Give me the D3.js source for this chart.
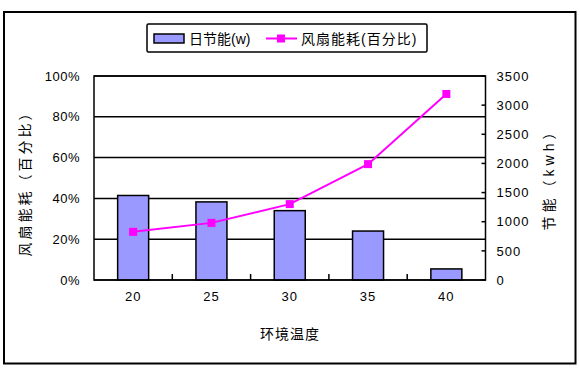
<!DOCTYPE html>
<html><head><meta charset="utf-8">
<script src="https://cdn.jsdelivr.net/npm/d3@7"></script>
<style>
body{margin:0;background:#fff;}
text{font-family:Arial,"Liberation Sans","Noto Sans CJK SC",sans-serif;fill:#000;}
</style></head>
<body><svg id="c" width="580" height="380"></svg>
<script>
const categories = ["20","25","30","35","40"];
const energySaving = [1450,1340,1190,840,190];
const fanPower = [0.236,0.28,0.372,0.568,0.912];
const leftTicks = [0,0.2,0.4,0.6,0.8,1.0];
const rightTicks = [0,500,1000,1500,2000,2500,3000,3500];
const barName = "日节能(w)";
const lineName = "风扇能耗(百分比)";
const leftTitle = "风扇能耗（百分比）";
const rightTitle = "节能（kwh）";
const xTitle = "环境温度";

const svg = d3.select("#c");
const L=94, R=485.5, T=76, B=280;

// outer frame
svg.append("rect").attr("x",4).attr("y",12).attr("width",571.5).attr("height",351.5)
  .attr("fill","#fff").attr("stroke","#000").attr("stroke-width",2);

const xb = d3.scaleBand().domain(categories).range([L,R]);
const yL = d3.scaleLinear().domain([0,1]).range([B,T]);
const yR = d3.scaleLinear().domain([0,3500]).range([B,T]);

// plot area
svg.append("rect").attr("x",L).attr("y",T).attr("width",R-L).attr("height",B-T).attr("fill","#fff");

// gridlines
svg.append("g").selectAll("line").data(leftTicks).join("line")
  .attr("x1",L).attr("x2",R).attr("y1",d=>yL(d)).attr("y2",d=>yL(d))
  .attr("stroke","#000").attr("stroke-width",1.5);

// bars
svg.append("g").selectAll("rect").data(energySaving).join("rect")
  .attr("x",(d,i)=>xb(categories[i])+xb.bandwidth()/2-15.5)
  .attr("width",31)
  .attr("y",d=>yR(d)).attr("height",d=>B-yR(d))
  .attr("fill","#9999FF").attr("stroke","#000").attr("stroke-width",1.5);

// plot frame
svg.append("rect").attr("x",L).attr("y",T).attr("width",R-L).attr("height",B-T)
  .attr("fill","none").attr("stroke","#000").attr("stroke-width",1.5);

// x axis
const gx = svg.append("g").attr("transform",`translate(0,${B})`)
  .call(d3.axisBottom(xb).tickSize(0).tickPadding(20));
gx.select(".domain").remove();
gx.selectAll("text").attr("font-size",13).attr("letter-spacing",1).attr("dy","0.1em");
svg.append("g").selectAll("line").data(categories.slice(1)).join("line")
  .attr("x1",d=>xb(d)).attr("x2",d=>xb(d)).attr("y1",B).attr("y2",B-6)
  .attr("stroke","#000").attr("stroke-width",1.5);

// left axis
const gl = svg.append("g").attr("transform",`translate(${L},0)`)
  .call(d3.axisLeft(yL).tickValues(leftTicks).tickFormat(d3.format(".0%")).tickSize(0).tickPadding(14));
gl.select(".domain").remove();
gl.selectAll("text").attr("font-size",13).attr("letter-spacing",0.5);

// right axis
const gr = svg.append("g").attr("transform",`translate(${R},0)`)
  .call(d3.axisRight(yR).tickValues(rightTicks).tickSize(0).tickPadding(11).tickFormat(d3.format("d")));
gr.select(".domain").remove();
gr.selectAll("text").attr("font-size",13).attr("letter-spacing",1);
svg.append("g").selectAll("line").data(rightTicks).join("line")
  .attr("x1",R-4).attr("x2",R).attr("y1",d=>yR(d)).attr("y2",d=>yR(d))
  .attr("stroke","#000").attr("stroke-width",1.5);

// line series
const line = d3.line().x((d,i)=>xb(categories[i])+xb.bandwidth()/2).y(d=>yL(d));
svg.append("path").datum(fanPower).attr("d",line).attr("fill","none")
  .attr("stroke","#FF00FF").attr("stroke-width",2);
svg.append("g").selectAll("rect").data(fanPower).join("rect")
  .attr("x",(d,i)=>xb(categories[i])+xb.bandwidth()/2-4).attr("y",d=>yL(d)-4)
  .attr("width",8).attr("height",8).attr("fill","#FF00FF");

// axis titles
svg.append("text").attr("transform","translate(30,180) rotate(-90)")
  .attr("text-anchor","middle").attr("font-size",14).attr("letter-spacing",3).text(leftTitle);
svg.append("text").attr("transform","translate(554,176) rotate(-90)")
  .attr("text-anchor","middle").attr("font-size",14).attr("letter-spacing",4).text(rightTitle);
svg.append("text").attr("x",290).attr("y",339).attr("text-anchor","middle")
  .attr("font-size",14).attr("letter-spacing",1).text(xTitle);

// legend
const lg = svg.append("g");
lg.append("rect").attr("x",147).attr("y",24).attr("width",280).attr("height",28)
  .attr("fill","#fff").attr("stroke","#000").attr("stroke-width",1.5).attr("rx",1.5);
lg.append("rect").attr("x",154).attr("y",34).attr("width",30).attr("height",9)
  .attr("fill","#9999FF").attr("stroke","#000").attr("stroke-width",1.5);
lg.append("text").attr("x",189).attr("y",43.5).attr("font-size",14).text(barName);
lg.append("line").attr("x1",266).attr("x2",297).attr("y1",38.5).attr("y2",38.5)
  .attr("stroke","#FF00FF").attr("stroke-width",2);
lg.append("rect").attr("x",277).attr("y",34.5).attr("width",8).attr("height",8).attr("fill","#FF00FF");
lg.append("text").attr("x",301).attr("y",43.5).attr("font-size",14).attr("letter-spacing",1).text(lineName);
</script></body></html>
